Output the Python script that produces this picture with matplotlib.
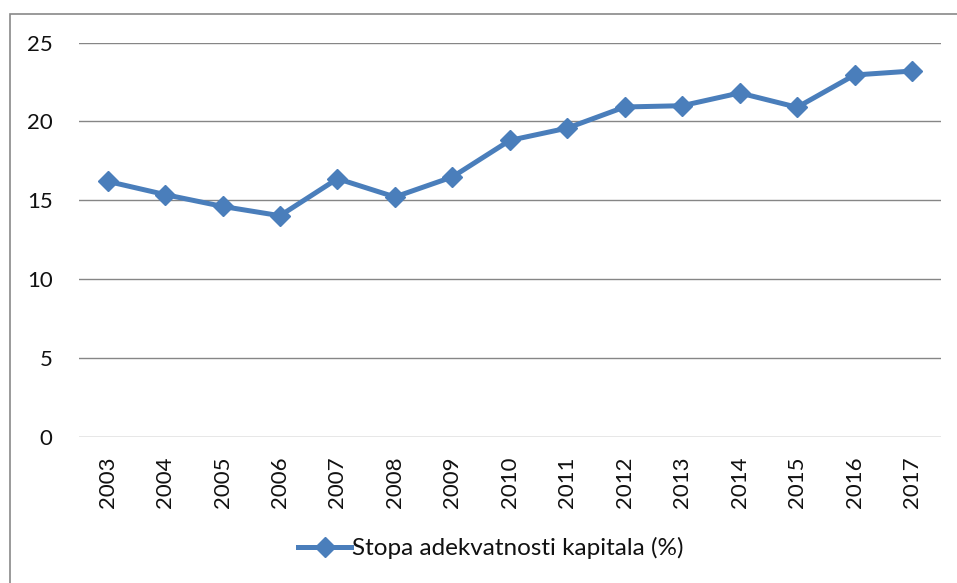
import matplotlib.pyplot as plt
from matplotlib.patches import Rectangle

years = ['2003', '2004', '2005', '2006', '2007', '2008', '2009', '2010',
         '2011', '2012', '2013', '2014', '2015', '2016', '2017']
car = [16.2, 15.36, 14.61, 14.02, 16.37, 15.21, 16.48, 18.8,
       19.58, 20.92, 21.0, 21.81, 20.9, 22.95, 23.2]
y_ticks = [0, 5, 10, 15, 20, 25]

plt.rcParams['font.family'] = ['Lato', 'DejaVu Sans']

fig = plt.figure(figsize=(9.57, 5.83), dpi=100)
ax = fig.add_axes([0.0825, 0.251, 0.9005, 0.6758])

x = range(len(years))
ax.plot(x, car, color='#4a7ebb', lw=3.6, marker='D', markersize=10,
        label='Stopa adekvatnosti kapitala (%)')

ax.set_xlim(-0.5, len(years) - 0.5)
ax.set_ylim(0, 25)
ax.set_yticks(y_ticks)
ax.set_xticks(list(x))
ax.set_xticklabels(years, rotation=90)
ax.tick_params(axis='both', length=0, labelsize=16, labelcolor='#111111')
ax.tick_params(axis='y', pad=19)
ax.tick_params(axis='x', pad=14)
ax.grid(axis='y', color='#868686', lw=1.0)
ax.set_axisbelow(True)
for s in ax.spines.values():
    s.set_visible(False)

ax.legend(loc='center', bbox_to_anchor=(0.478, -0.283), frameon=False,
          fontsize=17.5, handlelength=2.2, handletextpad=0.05,
          labelcolor='#111111')

# outer chart frame (cropped at right and bottom)
fig.add_artist(Rectangle((10 / 957, -0.1), 1.2, 1 - 14 / 583 + 0.1,
                         transform=fig.transFigure, fill=False,
                         ec='#898989', lw=1.2))

fig.savefig('out.png', dpi=100)
